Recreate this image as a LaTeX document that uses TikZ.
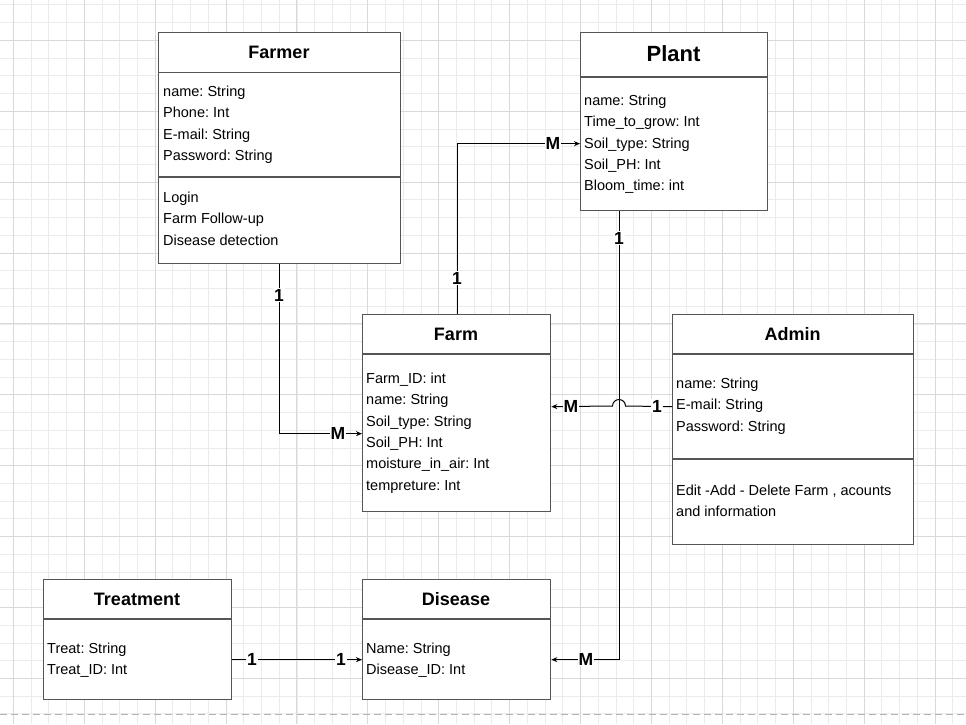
\documentclass[tikz,border=0pt]{standalone}
\usepackage{fontspec}
\setmainfont{Liberation Sans}
\usetikzlibrary{arrows.meta}
\frenchspacing
\definecolor{gridminor}{HTML}{EBEBEB}
\definecolor{gridmajor}{HTML}{D9D9D9}
\definecolor{boxline}{HTML}{555555}
\tikzset{
  umlbox/.style={draw=boxline, line width=1.3pt, fill=white, rectangle, anchor=north west, inner sep=0pt},
  divider/.style={draw=boxline, line width=1.3pt},
  attr/.style={font=\fontsize{14.5}{16}\selectfont, inner sep=0pt, anchor=base west},
  title/.style={font=\bfseries\fontsize{18}{20}\selectfont, inner sep=0pt},
  bigtitle/.style={font=\bfseries\fontsize{22}{24}\selectfont, inner sep=0pt},
  conn/.style={draw=black, line width=1pt, -{Stealth[length=6pt,width=5pt]}},
  mult/.style={font=\bfseries\fontsize{17.5}{19}\selectfont, fill=white, inner sep=1pt},
}
\newcommand\attrlines[4]{%
  \foreach \t [count=\i] in {#4}
    \node[attr] (#1\i) at (#2, {#3+(\i-1)*21.3}) {\frenchspacing\t};%
}
\begin{document}
\begin{tikzpicture}[x=1pt, y=-1pt]
\useasboundingbox (0,0) rectangle (966,724);
\fill[white] (0,0) rectangle (966,724);
% grid
\foreach \i in {0,...,55}
  \draw[gridminor, line width=0.8pt] ({-4.425+\i*17.725},0) -- ({-4.425+\i*17.725},724);
\foreach \i in {0,...,40}
  \draw[gridminor, line width=0.8pt] (0,{4.85+\i*17.725}) -- (966,{4.85+\i*17.725});
\foreach \k in {0,...,13}
  \draw[gridmajor, line width=0.9pt] ({13.3+\k*70.9},0) -- ({13.3+\k*70.9},724);
\foreach \k in {0,...,9}
  \draw[gridmajor, line width=0.9pt] (0,{40.3+\k*70.9}) -- (966,{40.3+\k*70.9});
\draw[black!30, line width=1pt, dash pattern=on 7pt off 4pt] (0,714.3) -- (966,714.3);

% boxes
\node[umlbox, minimum width=242pt, minimum height=231pt] (farmer) at (158,32) {};
\node[umlbox, minimum width=187pt, minimum height=178pt] (plant) at (580,32) {};
\node[umlbox, minimum width=188pt, minimum height=197pt] (farm) at (362,314) {};
\node[umlbox, minimum width=241pt, minimum height=230pt] (admin) at (672,314) {};
\node[umlbox, minimum width=188pt, minimum height=120pt] (treatment) at (43,579) {};
\node[umlbox, minimum width=188pt, minimum height=120pt] (disease) at (362,579) {};

% dividers
\draw[divider] (farmer.west |- 0,72.7) -- (farmer.east |- 0,72.7);
\draw[divider] (farmer.west |- 0,177) -- (farmer.east |- 0,177);
\draw[divider] (plant.west |- 0,77) -- (plant.east |- 0,77);
\draw[divider] (farm.west |- 0,354) -- (farm.east |- 0,354);
\draw[divider] (admin.west |- 0,354) -- (admin.east |- 0,354);
\draw[divider] (admin.west |- 0,459) -- (admin.east |- 0,459);
\draw[divider] (treatment.west |- 0,619) -- (treatment.east |- 0,619);
\draw[divider] (disease.west |- 0,619) -- (disease.east |- 0,619);

% titles
\node[title] (farmert) at (279,52) {Farmer};
\node[bigtitle] (plantt) at (673.5,54) {Plant};
\node[title] (farmt) at (456,334) {Farm};
\node[title] (admint) at (792.5,334) {Admin};
\node[title] (treatmentt) at (137,599) {Treatment};
\node[title] (diseaset) at (456,599) {Disease};

% attributes
\attrlines{fra}{163}{96.5}{name: String, Phone: Int, E-mail: String, Password: String}
\attrlines{frm}{163}{202.5}{Login, Farm Follow-up, Disease detection}
\attrlines{pla}{584}{105.5}{name: String, Time\_to\_grow: Int, Soil\_type: String, Soil\_PH: Int, Bloom\_time: int}
\attrlines{faa}{366}{383.5}{Farm\_ID: int, name: String, Soil\_type: String, Soil\_PH: Int, moisture\_in\_air: Int, tempreture: Int}
\attrlines{ada}{676}{388.5}{name: String, E-mail: String, Password: String}
\attrlines{adm}{676}{495}{{Edit -Add - Delete Farm , acounts}, and information}
\attrlines{tra}{47}{653.5}{Treat: String, Treat\_ID: Int}
\attrlines{dia}{366}{653.5}{Name: String, Disease\_ID: Int}

% connectors
\draw[conn] (farmer.south) |- ([yshift=-20.5pt]farm.west);
\draw[conn] ([xshift=1pt]farm.north) |- ([yshift=-22pt]plant.west);
\draw[conn] ([xshift=-54.5pt]plant.south) |- ([yshift=-20pt]disease.east);
\coordinate (hop) at (619,406);
\draw[conn] ([yshift=23pt]admin.west) -- ([xshift=6.5pt]hop)
  arc[start angle=0, end angle=180, radius=6.5pt] -- ([yshift=6.5pt]farm.east);
\draw[conn] ([yshift=-20pt]treatment.east) -- ([yshift=-20pt]disease.west);

% multiplicities
\node[mult] (m1a) at (279,295) {1};
\node[mult] (m1b) at (338,433) {M};
\node[mult] (m2a) at (457,278) {1};
\node[mult] (m2b) at (553,143) {M};
\node[mult] (m3a) at (619,238) {1};
\node[mult] (m3b) at (586,659) {M};
\node[mult] (m4a) at (657,406) {1};
\node[mult] (m4b) at (571,406) {M};
\node[mult] (m5a) at (252,659) {1};
\node[mult] (m5b) at (341,659) {1};
\end{tikzpicture}
\end{document}
